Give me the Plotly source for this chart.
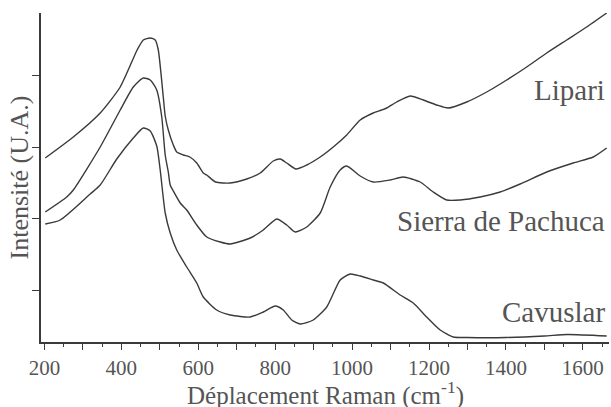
import plotly.graph_objects as go

# Raman shift (cm-1) and intensity (arbitrary units)
lipari_x = [202, 275, 345, 397, 441, 457, 475, 488, 496, 509, 514, 522, 535, 544, 561, 578, 596, 613,
            622, 645, 683, 726, 761, 795, 813, 830, 854, 882, 917, 951, 986, 1021, 1055, 1077, 1090,
            1116, 1151, 1185, 1220, 1250, 1298, 1350, 1402, 1454, 1506, 1558, 1610, 1662]
lipari_y = [184, 205, 229, 255, 292, 302, 304, 302, 292, 245, 226, 212, 197, 190, 187, 185, 179, 169,
            167, 160, 159, 163, 169, 181, 183, 179, 173, 177, 185, 195, 207, 222, 229, 232, 234,
            240, 246, 242, 237, 234, 240, 250, 262, 275, 289, 302, 315, 329]

sierra_x = [202, 258, 275, 345, 397, 431, 457, 475, 492, 505, 514, 522, 527, 535, 553, 570, 596, 622,
            657, 683, 735, 769, 804, 830, 852, 882, 917, 943, 969, 986, 1021, 1055, 1099, 1133, 1177,
            1211, 1246, 1281, 1333, 1385, 1437, 1506, 1575, 1627, 1662]
sierra_y = [130, 145, 152, 195, 232, 255, 264, 262, 252, 225, 187, 170, 157, 151, 139, 132, 117, 105,
            100, 98, 104, 112, 123, 117, 110, 115, 129, 155, 172, 176, 166, 160, 162, 165, 160,
            150, 142, 142, 145, 150, 158, 170, 179, 185, 194]

cavuslar_x = [202, 241, 319, 345, 388, 431, 457, 475, 492, 501, 514, 527, 544, 570, 596, 613, 648, 683,
              735, 769, 800, 821, 843, 865, 899, 934, 969, 995, 1021, 1055, 1081, 1125, 1159, 1194,
              1229, 1263, 1300, 1400, 1500, 1560, 1662]
cavuslar_y = [118, 122, 148, 157, 183, 204, 214, 211, 196, 172, 129, 109, 92, 75, 59, 45, 32, 27,
              25, 30, 36, 32, 22, 18, 22, 35, 62, 68, 66, 62, 59, 47, 39, 25,
              12, 5, 4.5, 4.5, 6, 7.5, 6]

series_names = ["Lipari", "Sierra de Pachuca", "Cavuslar"]
label_y = [252, 121, 30]
label_x = 1664

y_tickvals = [52, 123.5, 195, 266.5]

FONT = "Liberation Serif"
LINE = "#3a3a3a"
TEXT = "#555555"

fig = go.Figure()
for xs, ys, name in [(lipari_x, lipari_y, series_names[0]),
                     (sierra_x, sierra_y, series_names[1]),
                     (cavuslar_x, cavuslar_y, series_names[2])]:
    fig.add_trace(go.Scatter(x=xs, y=ys, mode="lines", name=name,
                             line=dict(color=LINE, width=1.4, shape="spline", smoothing=0.6),
                             showlegend=False))

for name, ly in zip(series_names, label_y):
    fig.add_annotation(x=label_x, y=ly, text=name, showarrow=False, xanchor="right",
                       yanchor="middle", font=dict(family=FONT, size=29, color=TEXT))

fig.add_annotation(xref="paper", yref="paper", x=0, y=0.5, xshift=-22, text="Intensité (U.A.)",
                   textangle=-90, showarrow=False, xanchor="center", yanchor="middle",
                   font=dict(family=FONT, size=26, color=TEXT))
fig.add_annotation(xref="paper", yref="paper", x=0.5, y=0, yshift=-51,
                   text="Déplacement Raman (cm<sup>-1</sup>)", showarrow=False,
                   xanchor="center", yanchor="middle",
                   font=dict(family=FONT, size=25, color=TEXT))

fig.update_layout(
    width=611, height=407,
    font=dict(family=FONT, color=TEXT),
    margin=dict(l=41, r=2, t=13, b=65),
    paper_bgcolor="white", plot_bgcolor="white",
    xaxis=dict(range=[191, 1668], showgrid=False, zeroline=False, showline=True,
               linecolor=LINE, linewidth=1.5, ticks="outside", ticklen=6, tickwidth=1.2,
               tickcolor=LINE, tick0=200, dtick=100, ticklabelstep=2,
               tickfont=dict(family=FONT, size=21, color=TEXT),
               minor=dict(dtick=50, tick0=0, ticks="outside", ticklen=3, tickcolor=LINE, tickwidth=1)),
    yaxis=dict(range=[0, 329], showgrid=False, zeroline=False, showline=True,
               linecolor=LINE, linewidth=1.5, ticks="outside", ticklen=7, tickwidth=1.2,
               tickcolor=LINE, tickvals=y_tickvals, showticklabels=False),
)

fig.write_html("out.html", config={"displayModeBar": False},
               post_script="document.body.style.margin='0';")
